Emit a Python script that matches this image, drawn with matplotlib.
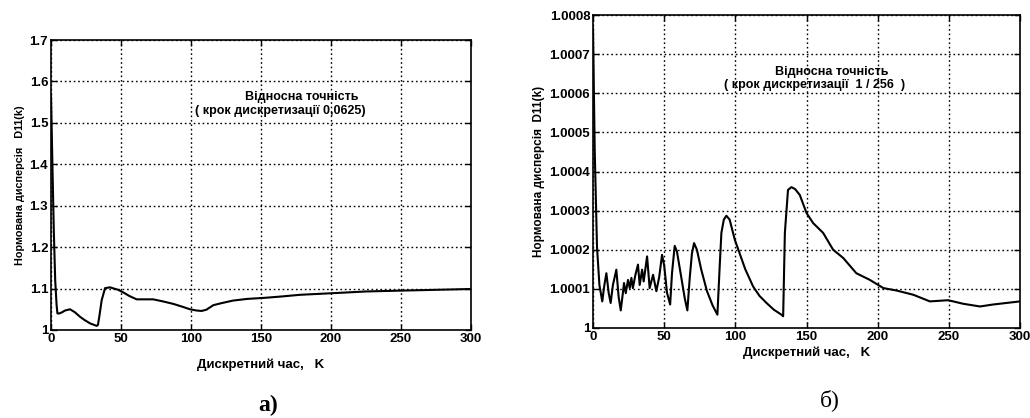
import matplotlib
matplotlib.use("Agg")
import matplotlib.pyplot as plt
from matplotlib.ticker import FixedLocator

plt.rcParams['font.family'] = ['Liberation Sans', 'DejaVu Sans']

# ---- panel a) data ----
xa = [0, 1, 2, 3, 4, 4.6, 6, 8, 10, 13.6, 17, 20.7, 24, 27.9, 31, 32.6, 33.5, 34.5,
      36.2, 38.6, 42.1, 45, 48, 52, 56, 61.2, 67, 73, 80, 87.4, 94, 99.3, 104, 107.6,
      111, 116, 122, 130, 140, 154, 165, 178, 190, 202, 225, 249, 275, 300]
ya = [1.567, 1.40, 1.24, 1.12, 1.06, 1.04, 1.04, 1.043, 1.047, 1.05, 1.043, 1.032,
      1.024, 1.016, 1.012, 1.010, 1.012, 1.032, 1.072, 1.101, 1.103, 1.100, 1.097,
      1.090, 1.082, 1.074, 1.074, 1.074, 1.069, 1.063, 1.056, 1.050, 1.047, 1.046,
      1.049, 1.060, 1.065, 1.071, 1.075, 1.078, 1.081, 1.085, 1.087, 1.089, 1.093,
      1.095, 1.097, 1.099]
yticks_a = [1.0, 1.1, 1.2, 1.3, 1.4, 1.5, 1.6, 1.7]
yticklabels_a = ['1', '1.1', '1.2', '1.3', '1.4', '1.5', '1.6', '1.7']

# ---- panel б) data ----
xb = [0, 1.2, 2.8, 4.5, 6.5, 8, 9.4, 11, 12.4, 14, 16.4, 18, 19.5, 21, 21.8, 23,
      24.6, 25.8, 27, 28, 29.8, 31.6, 32.8, 34.5, 35.6, 38, 39.8, 42.2, 44.5, 46.5,
      48.5, 50, 52, 54.2, 55.5, 57.4, 59, 62, 64.5, 66.3, 68, 69.5, 71, 73, 76, 80,
      84, 87.4, 89, 90.2, 91.9, 93.7, 96, 99.6, 103, 107, 112.5, 117, 121.9, 127,
      132.4, 133.6, 134.8, 137, 139.4, 142, 145.3, 150, 154.7, 161.7, 168.7, 175.8,
      185, 194.5, 204, 213, 225, 236.7, 249.6, 260, 271.9, 281, 300]
yb = [1.000766, 1.000455, 1.000208, 1.000110, 1.000068, 1.000110, 1.000140,
      1.000090, 1.000064, 1.000110, 1.000149, 1.000080, 1.000045, 1.000090,
      1.000115, 1.000089, 1.000123, 1.000102, 1.000128, 1.000102, 1.000136,
      1.000162, 1.000110, 1.000149, 1.000119, 1.000183, 1.000102, 1.000136,
      1.000094, 1.000130, 1.000187, 1.000160, 1.000090, 1.000060, 1.000140,
      1.000210, 1.000195, 1.000130, 1.000075, 1.000045, 1.000130, 1.000190,
      1.000217, 1.000200, 1.000150, 1.000095, 1.000058, 1.000034, 1.000157,
      1.000243, 1.000277, 1.000287, 1.000277, 1.000226, 1.000191, 1.000150,
      1.000106, 1.000082, 1.000064, 1.000047, 1.000034, 1.000030, 1.000243,
      1.000353, 1.000360, 1.000355, 1.000340, 1.000294, 1.000268, 1.000243,
      1.000200, 1.000179, 1.000140, 1.000123, 1.000102, 1.000096, 1.000085,
      1.000068, 1.000071, 1.000062, 1.000055, 1.000060, 1.000068]
yticks_b = [1.0, 1.0001, 1.0002, 1.0003, 1.0004, 1.0005, 1.0006, 1.0007, 1.0008]
yticklabels_b = ['1', '1.0001', '1.0002', '1.0003', '1.0004', '1.0005', '1.0006',
                 '1.0007', '1.0008']

xticks = [0, 50, 100, 150, 200, 250, 300]
xticklabels = ['0', '50', '100', '150', '200', '250', '300']

xlabel = 'Дискретний час,   K'
ylabel_a = 'Нормована дисперсія   D11(k)'
ylabel_b = 'Нормована дисперсія  D11(k)'
title_line1 = 'Відносна точність'
note_a = '( крок дискретизації 0,0625)'
note_b = '( крок дискретизації  1 / 256  )'

fig = plt.figure(figsize=(10.30, 4.18), dpi=100)
ax1 = fig.add_axes([51/1030, (418-330)/418, 420/1030, 290/418])
ax2 = fig.add_axes([593/1030, (418-328)/418, 427/1030, 313/418])

tick_font = dict(fontsize=9.5, fontweight='bold')

def style(ax, yt, ytl, ylim, ylab, ylab_size):
    ax.set_xlim(0, 300)
    ax.set_ylim(*ylim)
    ax.xaxis.set_major_locator(FixedLocator(xticks))
    ax.set_xticklabels(xticklabels, **tick_font)
    ax.yaxis.set_major_locator(FixedLocator(yt))
    ax.set_yticklabels(ytl, **tick_font)
    ax.tick_params(direction='in', length=4, width=1, pad=2, top=True, right=True)
    ax.grid(True, linestyle=(0, (1.2, 2.0)), color='black', linewidth=1.0)
    for s in ax.spines.values():
        s.set_linewidth(1.2)
    ax.set_ylabel(ylab, fontsize=ylab_size, fontweight='bold', labelpad=3)

ax1.plot(xa, ya, color='black', linewidth=1.5)
style(ax1, yticks_a, yticklabels_a, (1.0, 1.7), ylabel_a, 7.8)
ax1.set_xlabel(xlabel, fontsize=9.5, fontweight='bold', labelpad=10)
ax1.text(179, 1.562, title_line1, ha='center', va='center', fontsize=9, fontweight='bold')
ax1.text(164, 1.529, note_a, ha='center', va='center', fontsize=9, fontweight='bold')

ax2.plot(xb, yb, color='black', linewidth=1.5)
style(ax2, yticks_b, yticklabels_b, (1.0, 1.0008), ylabel_b, 8.5)
ax2.set_xlabel(xlabel, fontsize=9.5, fontweight='bold', labelpad=3)
ax2.text(168, 1.000654, title_line1, ha='center', va='center', fontsize=9, fontweight='bold')
ax2.text(155.6, 1.000621, note_b, ha='center', va='center', fontsize=9, fontweight='bold')

fig.text(268/1030, 1 - 405/418, 'а)', ha='center', va='center', fontsize=17,
         fontweight='bold', family='Liberation Serif')
fig.text(830/1030, 1 - 400/418, 'б)', ha='center', va='center', fontsize=17,
         family='Liberation Serif')

fig.savefig('out.png', dpi=100)
